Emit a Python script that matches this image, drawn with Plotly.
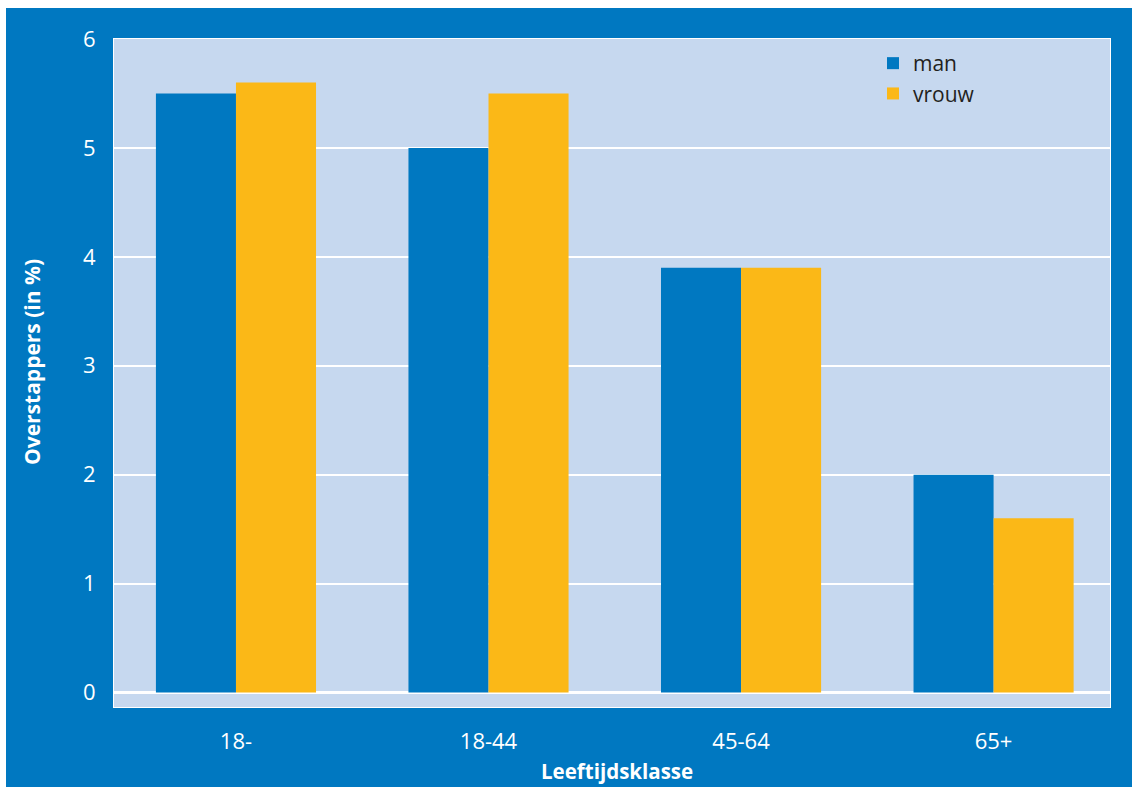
import plotly.graph_objects as go

categories = ["18-", "18-44", "45-64", "65+"]
man = [5.5, 5.0, 3.9, 2.0]
vrouw = [5.6, 5.5, 3.9, 1.6]
y_ticks = [0, 1, 2, 3, 4, 5, 6]

BLUE = "#0078C1"
YELLOW = "#FBB817"
PLOTBG = "#C6D8EF"
FONT = "Open Sans"

W, H = 1132, 787
L, R, T, B = 114, 22, 39, 80
pw, ph = W - L - R, H - T - B

def px_x(px):
    return (px - L) / pw

def px_y(py):
    return (H - B - py) / ph

fig = go.Figure()
fig.add_trace(go.Bar(name="man", x=categories, y=man, marker=dict(color=BLUE, line=dict(width=0))))
fig.add_trace(go.Bar(name="vrouw", x=categories, y=vrouw, marker=dict(color=YELLOW, line=dict(width=0))))

fig.update_layout(
    width=W, height=H,
    margin=dict(l=L, r=R, t=T, b=B),
    paper_bgcolor=BLUE,
    plot_bgcolor=PLOTBG,
    barmode="group",
    bargap=0.366,
    bargroupgap=0,
    font=dict(family=FONT, color="white", size=22),
    showlegend=True,
    legend=dict(
        x=px_x(873), y=px_y(43), xanchor="left", yanchor="top",
        bgcolor="rgba(0,0,0,0)", font=dict(family=FONT, size=21, color="#231F20"),
        itemwidth=30, tracegroupgap=0,
    ),
    xaxis=dict(
        type="category", range=[-0.483, 3.461],
        showgrid=False, showline=True, mirror=True, linecolor="white", linewidth=1,
        tickfont=dict(family=FONT, size=22, color="white"),
        ticks="", ticklabelstandoff=15, fixedrange=True,
    ),
    yaxis=dict(
        range=[-0.133, 6], tickvals=y_ticks, ticktext=[str(v) for v in y_ticks],
        showgrid=True, gridcolor="white", gridwidth=2,
        zeroline=True, zerolinecolor="white", zerolinewidth=3,
        showline=True, mirror=True, linecolor="white", linewidth=1,
        tickfont=dict(family=FONT, size=22, color="white"),
        ticks="", ticklabelstandoff=13, fixedrange=True,
    ),
    annotations=[
        dict(text="<b>Overstappers (in %)</b>", xref="paper", yref="paper",
             x=px_x(32), y=px_y(362), xanchor="center", yanchor="middle",
             textangle=-90, showarrow=False, font=dict(family=FONT, size=21, color="white")),
        dict(text="<b>Leeftijdsklasse</b>", xref="paper", yref="paper",
             x=px_x(617), y=px_y(771), xanchor="center", yanchor="middle",
             showarrow=False, font=dict(family=FONT, size=20.5, color="white")),
    ],
    shapes=[
        dict(type="rect", xref="paper", yref="paper", x0=px_x(-5), x1=px_x(6), y0=px_y(800), y1=px_y(-5),
             fillcolor="white", line=dict(width=0), layer="below"),
        dict(type="rect", xref="paper", yref="paper", x0=px_x(-5), x1=px_x(1140), y0=px_y(8), y1=px_y(-5),
             fillcolor="white", line=dict(width=0), layer="below"),
    ],
)

fig.write_html("out.html")
